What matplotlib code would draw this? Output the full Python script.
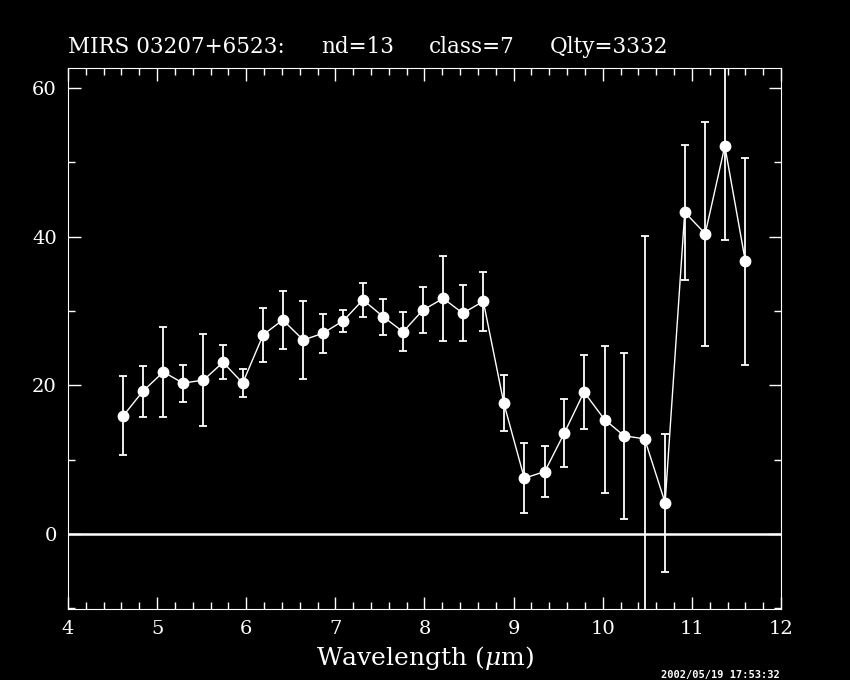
import matplotlib
matplotlib.use("Agg")
import matplotlib.pyplot as plt
from matplotlib.ticker import MultipleLocator

# spectrum
wavelength = [4.62, 4.84, 5.07, 5.29, 5.52, 5.74, 5.96, 6.19, 6.41, 6.64, 6.86,
              7.09, 7.31, 7.54, 7.76, 7.98, 8.21, 8.43, 8.66, 8.89, 9.12, 9.35,
              9.57, 9.79, 10.02, 10.24, 10.47, 10.70, 10.92, 11.15, 11.37, 11.60]
flux = [15.9, 19.2, 21.8, 20.3, 20.7, 23.1, 20.3, 26.8, 28.8, 26.1, 27.0,
        28.7, 31.5, 29.2, 27.2, 30.1, 31.7, 29.7, 31.3, 17.6, 7.5, 8.4,
        13.6, 19.1, 15.4, 13.2, 12.8, 4.2, 43.3, 40.4, 52.2, 36.7]
flux_err = [5.3, 3.4, 6.0, 2.5, 6.2, 2.3, 1.9, 3.6, 3.9, 5.3, 2.6,
            1.5, 2.3, 2.4, 2.6, 3.1, 5.7, 3.8, 4.0, 3.8, 4.7, 3.4,
            4.6, 5.0, 9.9, 11.2, 27.3, 9.3, 9.1, 15.1, 12.7, 13.9]

# header pieces and where each starts (figure fraction)
title_parts = ["MIRS 03207+6523:", "nd=13", "class=7", "Qlty=3332"]
title_x = [0.080, 0.378, 0.505, 0.647]
stamp = "2002/05/19 17:53:32"

plt.rcParams["font.family"] = ["DejaVu Serif"]
plt.rcParams["mathtext.fontset"] = "dejavuserif"

fig = plt.figure(figsize=(8.5, 6.8), dpi=100, facecolor="black")
ax = fig.add_axes([0.08, 0.1044, 0.8388, 0.7956], facecolor="black")

ax.axhline(0, color="white", lw=1.8)
ax.errorbar(wavelength, flux, yerr=flux_err, fmt="-o", color="white",
            lw=1, ms=7.5, elinewidth=1.3, capsize=3, capthick=1.3)

ax.set_xlim(4, 12)
ax.set_ylim(-10.1, 62.7)
ax.xaxis.set_major_locator(MultipleLocator(1))
ax.xaxis.set_minor_locator(MultipleLocator(0.2))
ax.yaxis.set_major_locator(MultipleLocator(20))
ax.yaxis.set_minor_locator(MultipleLocator(10))
ax.tick_params(which="both", direction="in", colors="white",
               top=True, right=True, labelsize=14, width=1)
ax.tick_params(which="major", length=9, pad=8)
ax.tick_params(which="minor", length=5)
for s in ax.spines.values():
    s.set_color("white")

ax.set_xlabel(r"Wavelength ($\mu$m)", color="white", fontsize=18, labelpad=4)
for txt, x in zip(title_parts, title_x):
    fig.text(x, 0.915, txt, color="white", fontsize=15.5, ha="left", va="bottom")
fig.text(0.847, 0.014, stamp, color="white", fontsize=7.5, ha="center",
         va="top", family="DejaVu Sans Mono", weight="bold")

fig.savefig("out.png", dpi=100, facecolor="black")
